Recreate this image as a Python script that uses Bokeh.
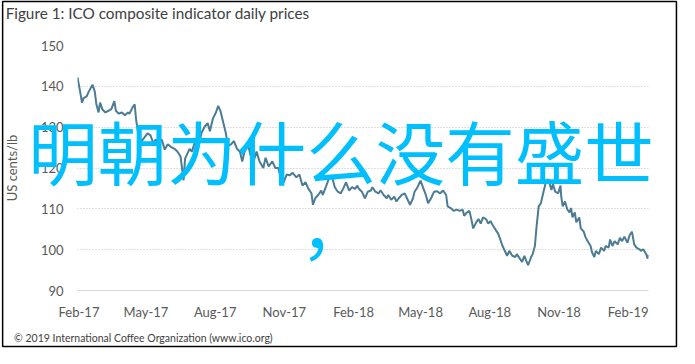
import pandas as pd
from datetime import datetime
from bokeh.plotting import figure
from bokeh.models import Range1d, FixedTicker, DatetimeTickFormatter, ColumnDataSource
from bokeh.core.properties import value
from bokeh.embed import file_html
from bokeh.resources import INLINE

# ---------------- data ----------------
title_text = "Figure 1: ICO composite indicator daily prices"
y_label = "US cents/lb"
footer_text = "\u00a9 2019 International Coffee Organization (www.ico.org)"
watermark_line1 = "明朝为什么没有盛世"
watermark_line2 = "，"

dates = [
    "2017-01-30", "2017-02-02", "2017-02-05", "2017-02-07", "2017-02-11", "2017-02-14", "2017-02-19", "2017-02-22", "2017-02-24", "2017-02-27",
    "2017-03-01", "2017-03-04", "2017-03-08", "2017-03-12", "2017-03-16", "2017-03-20", "2017-03-22", "2017-03-26", "2017-03-30",
    "2017-04-03", "2017-04-07", "2017-04-09", "2017-04-13", "2017-04-16", "2017-04-18", "2017-04-21", "2017-04-25", "2017-04-29",
    "2017-05-03", "2017-05-07", "2017-05-11", "2017-05-14", "2017-05-18", "2017-05-22", "2017-05-26", "2017-05-30",
    "2017-06-03", "2017-06-08", "2017-06-12", "2017-06-16", "2017-06-20", "2017-06-22", "2017-06-28",
    "2017-07-01", "2017-07-05", "2017-07-09", "2017-07-14", "2017-07-18", "2017-07-22", "2017-07-25", "2017-07-29",
    "2017-08-02", "2017-08-05", "2017-08-08", "2017-08-11", "2017-08-15", "2017-08-18", "2017-08-22", "2017-08-26", "2017-08-30",
    "2017-09-03", "2017-09-06", "2017-09-09", "2017-09-13", "2017-09-17", "2017-09-21", "2017-09-25", "2017-09-29",
    "2017-10-04", "2017-10-07", "2017-10-11", "2017-10-16", "2017-10-20", "2017-10-24", "2017-10-27", "2017-10-31",
    "2017-11-04", "2017-11-08", "2017-11-12", "2017-11-17", "2017-11-21", "2017-11-25", "2017-11-29",
    "2017-12-03", "2017-12-07", "2017-12-09", "2017-12-12", "2017-12-16", "2017-12-20", "2017-12-22", "2017-12-26", "2017-12-30",
    "2018-01-03", "2018-01-07", "2018-01-11", "2018-01-15", "2018-01-18", "2018-01-22", "2018-01-26", "2018-01-30",
    "2018-02-03", "2018-02-06", "2018-02-08", "2018-02-12", "2018-02-16", "2018-02-20", "2018-02-24", "2018-02-26",
    "2018-03-02", "2018-03-06", "2018-03-09", "2018-03-13", "2018-03-17", "2018-03-19", "2018-03-23", "2018-03-27", "2018-03-30",
    "2018-04-02", "2018-04-06", "2018-04-10", "2018-04-13", "2018-04-17", "2018-04-21", "2018-04-23", "2018-04-27",
    "2018-05-01", "2018-05-05", "2018-05-08", "2018-05-11", "2018-05-15", "2018-05-19", "2018-05-23", "2018-05-27", "2018-05-31",
    "2018-06-04", "2018-06-06", "2018-06-10", "2018-06-14", "2018-06-18", "2018-06-22", "2018-06-26", "2018-06-28",
    "2018-07-01", "2018-07-05", "2018-07-07", "2018-07-10", "2018-07-14", "2018-07-17", "2018-07-20", "2018-07-23", "2018-07-27", "2018-07-30",
    "2018-08-02", "2018-08-05", "2018-08-09", "2018-08-12", "2018-08-15", "2018-08-18", "2018-08-22", "2018-08-24", "2018-08-27", "2018-08-31",
    "2018-09-04", "2018-09-06", "2018-09-10", "2018-09-13", "2018-09-16", "2018-09-18", "2018-09-21", "2018-09-25", "2018-09-27", "2018-09-30",
    "2018-10-02", "2018-10-05", "2018-10-08", "2018-10-11", "2018-10-15", "2018-10-18", "2018-10-22", "2018-10-24", "2018-10-27", "2018-10-31",
    "2018-11-03", "2018-11-04", "2018-11-06", "2018-11-09", "2018-11-12", "2018-11-15", "2018-11-17", "2018-11-19", "2018-11-22", "2018-11-24", "2018-11-28", "2018-11-30",
    "2018-12-04", "2018-12-06", "2018-12-09", "2018-12-13", "2018-12-15", "2018-12-18", "2018-12-20", "2018-12-24", "2018-12-27", "2018-12-31",
    "2019-01-02", "2019-01-06", "2019-01-08", "2019-01-11", "2019-01-14", "2019-01-18", "2019-01-21", "2019-01-24", "2019-01-27", "2019-01-31",
    "2019-02-03", "2019-02-06", "2019-02-09", "2019-02-12", "2019-02-16", "2019-02-18", "2019-02-21", "2019-02-25", "2019-02-27", "2019-02-28",
]

prices = [
    142.2, 139.2, 136.0, 137.1, 137.5, 138.7, 140.4, 138.7, 135.7, 133.6,
    136.0, 134.4, 133.6, 134.0, 134.4, 136.4, 134.0, 133.3, 133.6,
    132.9, 133.6, 133.3, 134.8, 135.6, 131.7, 128.0, 126.5, 127.5,
    128.5, 128.0, 126.0, 127.0, 126.0, 127.0, 124.5, 125.8,
    125.2, 124.7, 124.0, 122.8, 117.0, 122.3, 124.7,
    124.0, 126.3, 124.7, 128.7, 130.1, 131.0, 129.0, 132.1,
    133.6, 135.2, 134.0, 131.7, 128.7, 125.4, 125.8, 126.6, 124.7,
    124.0, 121.6, 124.0, 126.3, 123.1, 121.6, 124.0, 121.6,
    120.0, 122.5, 120.4, 121.6, 120.0, 120.0, 117.7, 116.5,
    118.4, 118.2, 118.8, 117.7, 118.4, 115.7, 116.5,
    114.9, 113.8, 111.0, 112.6, 113.4, 114.5, 113.4, 115.3, 117.3,
    118.1, 115.3, 114.2, 113.8, 114.9, 116.5, 114.5, 115.3,
    114.9, 115.7, 114.9, 114.2, 112.6, 114.2, 114.5, 115.3,
    114.2, 113.8, 114.5, 113.4, 112.6, 113.4, 112.2, 113.0, 111.8,
    112.6, 113.4, 113.8, 112.6, 111.0, 112.6, 114.2, 115.3,
    116.9, 114.9, 113.4, 111.4, 112.6, 114.2, 114.3, 113.8, 114.5,
    113.4, 110.6, 110.2, 109.5, 109.8, 109.5, 109.8, 108.3,
    109.0, 109.5, 107.9, 105.2, 106.7, 107.5, 106.4, 107.9, 107.5, 106.4,
    107.0, 106.0, 104.8, 104.0, 102.5, 100.9, 99.3, 98.5, 99.7, 98.5,
    98.2, 98.9, 97.8, 97.0, 98.5, 97.5, 96.2, 98.2, 98.9, 100.9,
    105.2, 110.6, 111.4, 113.8, 116.9, 117.2, 114.6, 116.1, 114.2, 113.8,
    115.7, 113.0, 110.6, 111.8, 109.9, 109.1, 110.2, 107.9, 109.1, 106.7, 107.9, 105.2,
    104.4, 103.2, 102.1, 100.9, 99.3, 98.2, 99.7, 98.9, 100.5, 99.7,
    100.9, 100.5, 102.5, 100.9, 102.1, 101.3, 102.9, 102.1, 103.2, 101.7,
    103.6, 104.4, 101.3, 100.5, 100.1, 99.7, 100.1, 98.9, 97.8, 98.7,
]

x_tick_dates = ["2017-02-01", "2017-05-01", "2017-08-01", "2017-11-01", "2018-02-01",
                "2018-05-01", "2018-08-01", "2018-11-01", "2019-02-01"]
y_ticks = [90, 100, 110, 120, 130, 140, 150]
x_start = datetime(2017, 1, 30)
x_end = datetime(2019, 2, 28)
y_start, y_end = 90, 150

# ---------------- layout (pixels inside the 679x348 figure) ----------------
FIG_W, FIG_H = 679, 348
FRAME_L, FRAME_T, FRAME_W, FRAME_H = 76, 45, 572, 245


def data_x(px):
    return x_start + (x_end - x_start) * ((px - FRAME_L) / FRAME_W)


def data_y(py):
    return y_end - (py - FRAME_T) / FRAME_H * (y_end - y_start)


src = ColumnDataSource(dict(date=pd.to_datetime(dates), price=prices))

p = figure(width=FIG_W, height=FIG_H, x_axis_type="datetime",
           output_backend="svg", toolbar_location=None,
           x_range=Range1d(x_start, x_end), y_range=Range1d(y_start, y_end),
           min_border_left=FRAME_L, min_border_top=FRAME_T,
           min_border_right=FIG_W - FRAME_L - FRAME_W,
           min_border_bottom=FIG_H - FRAME_T - FRAME_H)
p.background_fill_color = "white"
p.border_fill_color = "white"
p.outline_line_color = None

p.line("date", "price", source=src, line_color="#4B7C93", line_width=2)

tick_ms = [int(pd.Timestamp(d).value // 10**6) for d in x_tick_dates]
p.xaxis.ticker = FixedTicker(ticks=tick_ms)
fmt = "%b-%y"
p.xaxis.formatter = DatetimeTickFormatter(days=fmt, months=fmt, years=fmt)
p.yaxis.ticker = FixedTicker(ticks=y_ticks)

for ax in (p.xaxis[0], p.yaxis[0]):
    ax.major_tick_line_color = None
    ax.minor_tick_line_color = None
    ax.major_tick_out = 0
    ax.major_tick_in = 0
    ax.minor_tick_out = 0
    ax.minor_tick_in = 0
    ax.major_label_text_font = "Lato"
    ax.major_label_text_font_size = "13px"
    ax.major_label_text_color = "#595959"

p.xaxis.axis_line_color = "#D9D9D9"
p.xaxis.axis_line_width = 1
p.xaxis.major_label_standoff = 13
p.yaxis.axis_line_color = None
p.yaxis.major_label_standoff = 14
p.yaxis.axis_label = y_label
p.yaxis.axis_label_text_font = "Lato"
p.yaxis.axis_label_text_font_style = "normal"
p.yaxis.axis_label_text_font_size = "13px"
p.yaxis.axis_label_text_color = "#595959"
p.yaxis.axis_label_standoff = 18

p.xgrid.grid_line_color = None
p.ygrid.grid_line_color = "#BFBFBF"
p.ygrid.grid_line_dash = "1 2"
p.ygrid.grid_line_width = 1

# ---------------- texts and frame (overlay level: not clipped to the plot frame) ----------------
p.quad(left=[data_x(1)], right=[data_x(676)], top=[data_y(1)], bottom=[data_y(346)],
       fill_color=None, line_color="black", line_width=1.5, level="overlay")
p.text(x=[data_x(4)], y=[data_y(12.5)], text=[title_text], level="overlay",
       text_font=value("Lato"), text_font_size=value("15.3px"), text_color="#404040",
       text_align="left", text_baseline="middle")
p.text(x=[data_x(12.5)], y=[data_y(337)], text=[footer_text], level="overlay",
       text_font=value("Lato"), text_font_size=value("10.5px"), text_color="#404040",
       text_align="left", text_baseline="middle")
p.text(x=[data_x(340)], y=[data_y(148.5)], text=[watermark_line1], level="overlay",
       text_font=value("Noto Sans CJK SC"), text_font_size=value("69.5px"), text_color="#00BFFF",
       text_align="center", text_baseline="middle")
p.text(x=[data_x(334)], y=[data_y(223)], text=[watermark_line2], level="overlay",
       text_font=value("Noto Sans CJK SC"), text_font_size=value("69.5px"), text_color="#00BFFF",
       text_align="center", text_baseline="middle")

open("out.html", "w").write(file_html(p, INLINE))
